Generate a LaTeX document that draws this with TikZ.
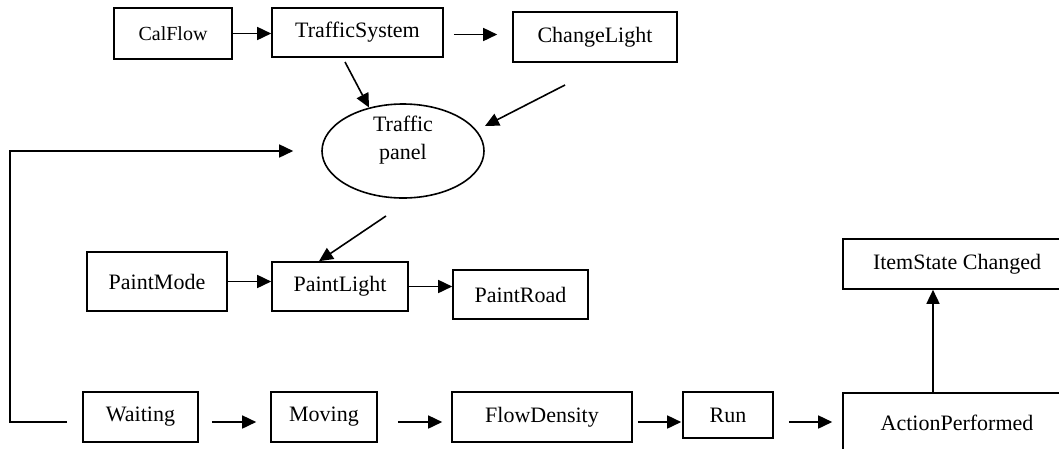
\documentclass[tikz,border=0pt]{standalone}
\usepackage{fontspec}
\setmainfont{Liberation Serif}
\usetikzlibrary{arrows.meta,shapes.geometric}

\begin{document}
\begin{tikzpicture}[x=1pt,y=-1pt,
			box/.style={draw,line width=1.6pt,inner sep=0pt,minimum height=50pt,
				font=\fontsize{22}{26}\selectfont},
			panelshape/.style={draw,ellipse,line width=1.6pt,inner sep=0pt,
				minimum width=162pt,minimum height=94pt},
			arrow/.style={line width=1.6pt,-{Triangle[length=14pt,width=13pt]}}]
			\clip (0,0) rectangle (1059,448);
			% top row
			\node[box,minimum width=118pt,minimum height=51pt,font=\fontsize{20}{24}\selectfont] (CalFlow) at (173,33.5) {CalFlow};
			\node[box,minimum width=171pt,minimum height=49pt] (TrafficSystem) at (357.5,32.5) {TrafficSystem};
			\node[box,minimum width=164pt] (ChangeLight) at (595,37) {ChangeLight};
			% traffic panel
			\node[panelshape] (panel) at (403,151) {};
			\node[align=center,font=\fontsize{22}{28}\selectfont] (paneltext) at (403,140) {Traffic\\panel};
			% paint row
			\node[box,minimum width=140pt,minimum height=59pt] (PaintMode) at (157,281.5) {PaintMode};
			\node[box,minimum width=136pt,minimum height=49pt] (PaintLight) at (340,286.5) {PaintLight};
			\node[box,minimum width=135pt,minimum height=49pt] (PaintRoad) at (520.5,294.5) {PaintRoad};
			\node[box,minimum width=228pt] (ItemState) at (957,264) {ItemState Changed};
			% bottom row
			\node[box,minimum width=115pt] (Waiting) at (140.5,417) {Waiting};
			\node[box,minimum width=106pt] (Moving) at (324,417) {Moving};
			\node[box,minimum width=180pt] (FlowDensity) at (542,417) {FlowDensity};
			\node[box,minimum width=90pt,minimum height=46pt] (Run) at (728,415) {Run};
			\node[box,minimum width=228pt,minimum height=60pt] (ActionPerformed) at (957,423) {ActionPerformed};
			% free ends
			\coordinate (sysout) at (345,62);
			\coordinate (lightout) at (565,85);
			\coordinate (panelin) at (485,126);
			\coordinate (panelout) at (386,216);
			
			\draw[arrow] (CalFlow.east) -- (CalFlow.east -| TrafficSystem.west);
			\draw[arrow,shorten <=10pt,shorten >=15pt] ([yshift=-2pt]TrafficSystem.east) -- ([yshift=-2pt]TrafficSystem.east -| ChangeLight.west);
			\draw[arrow] (sysout) -- (panel.128);
			\draw[arrow] (lightout) -- (panelin);
			\draw[arrow] (panelout) -- ([xshift=-21pt]PaintLight.north);
			\draw[arrow] (PaintMode.east) -- (PaintMode.east -| PaintLight.west);
			\draw[arrow] (PaintLight.east) -- (PaintLight.east -| PaintRoad.west);
			\draw[arrow,shorten >=28pt] ([xshift=-15pt,yshift=-5pt]Waiting.west) -- ++(-57,0) |- (panel.west);
			\draw[arrow,shorten <=13pt,shorten >=14pt] ([yshift=-5pt]Waiting.east) -- ([yshift=-5pt]Waiting.east -| Moving.west);
			\draw[arrow,shorten <=20pt,shorten >=9pt] ([yshift=-5pt]Moving.east) -- ([yshift=-5pt]Moving.east -| FlowDensity.west);
			\draw[arrow,shorten <=5pt,shorten >=1pt] ([yshift=-5pt]FlowDensity.east) -- ([yshift=-5pt]FlowDensity.east -| Run.west);
			\draw[arrow,shorten <=15pt,shorten >=10pt] ([yshift=-7pt]Run.east) -- ([yshift=-7pt]Run.east -| ActionPerformed.west);
			\draw[arrow] ([xshift=-24pt]ActionPerformed.north) -- ([xshift=-24pt]ItemState.south);
			\end{tikzpicture}
\end{document}
